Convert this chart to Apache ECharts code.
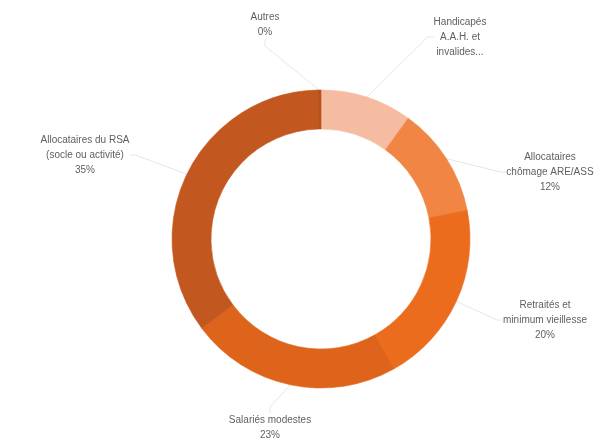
<!DOCTYPE html>
<html><head><meta charset="utf-8">
<script src="https://cdn.jsdelivr.net/npm/echarts@6/dist/echarts.min.js"></script>
<style>html,body{margin:0;padding:0;background:#fff}#c{width:605px;height:447px}</style>
</head><body><div id="c"></div>
<script>
const categories = ["Handicapés A.A.H. et invalides...", "Allocataires chômage ARE/ASS", "Retraités et minimum vieillesse", "Salariés modestes", "Allocataires du RSA (socle ou activité)", "Autres"];
const values = [10, 12, 20, 23, 35, 0.4];
const labelTexts = ["Handicapés\nA.A.H. et\ninvalides...", "Allocataires\nchômage ARE/ASS\n12%", "Retraités et\nminimum vieillesse\n20%", "Salariés modestes\n23%", "Allocataires du RSA\n(socle ou activité)\n35%", "Autres\n0%"];
const colors = ["#f5bca2", "#f08544", "#ec6c1e", "#de631b", "#c2581f", "#b8521d"];
// label centre positions (layout only)
const labelPos = [[460, 37], [550, 172], [545, 320], [270, 428], [85, 155], [265, 25]];

const chart = echarts.init(document.getElementById('c'));
chart.setOption({
  animation: false,
  series: [{
    type: 'pie',
    center: [321, 239],
    radius: [110, 149],
    startAngle: 90,
    clockwise: true,
    data: categories.map((n, i) => ({ name: n, value: values[i], itemStyle: { color: colors[i], borderColor: colors[i], borderWidth: 0.6 } })),
    label: {
      formatter: p => labelTexts[p.dataIndex],
      color: '#5f5f5f',
      fontSize: 10,
      lineHeight: 15,
      fontFamily: 'Liberation Sans, Arial, sans-serif',
      align: 'center'
    },
    labelLayout: p => ({ x: labelPos[p.dataIndex][0], y: labelPos[p.dataIndex][1], align: 'center', verticalAlign: 'middle' }),
    labelLine: { length: 18, length2: 6, lineStyle: { color: '#e6e6e6', width: 1 } },
    emphasis: { disabled: true }
  }]
});
</script></body></html>
